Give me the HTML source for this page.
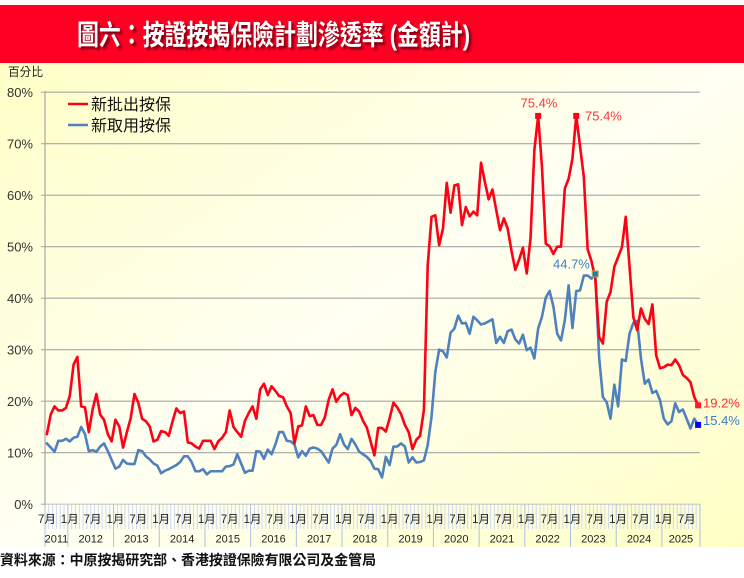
<!DOCTYPE html>
<html><head><meta charset="utf-8">
<style>
html,body{margin:0;padding:0;background:#fff;width:744px;height:578px;overflow:hidden}
svg{display:block}
text{font-family:"Liberation Sans","Noto Sans CJK TC",sans-serif}
</style></head>
<body>
<svg id="s" width="744" height="578" viewBox="0 0 744 578" xmlns="http://www.w3.org/2000/svg">
<defs>
<linearGradient id="bg" x1="0" y1="0" x2="1" y2="1">
<stop offset="0" stop-color="#ffffc6"/>
<stop offset="0.5" stop-color="#fffff3"/>
<stop offset="1" stop-color="#ffffc4"/>
</linearGradient>
<filter id="sh" x="-5%" y="-30%" width="110%" height="160%"><feGaussianBlur stdDeviation="1.2"/></filter>
</defs>
<rect x="0" y="0" width="744" height="578" fill="#fff"/>
<rect x="0" y="5" width="744" height="58" fill="#ff0022"/>
<text x="79.5" y="47" font-size="28" font-weight="bold" fill="#000" opacity="0.55" filter="url(#sh)" textLength="393" lengthAdjust="spacingAndGlyphs">圖六：按證按揭保險計劃滲透率 (金額計)</text>
<text x="77" y="44.5" font-size="28" font-weight="bold" fill="#fff" textLength="393" lengthAdjust="spacingAndGlyphs">圖六：按證按揭保險計劃滲透率 (金額計)</text>
<rect x="0" y="63" width="744" height="484" fill="url(#bg)"/>
<text x="8" y="76" font-size="12" fill="#222" textLength="35" lengthAdjust="spacingAndGlyphs">百分比</text>
<g id="g"></g>
<text x="0" y="565" font-size="14" font-weight="bold" fill="#111" textLength="376" lengthAdjust="spacingAndGlyphs">資料來源：中原按揭研究部、香港按證保險有限公司及金管局</text>
</svg>
<script>
var R=[13.6,17.4,19.0,18.2,18.2,18.7,21.0,27.1,28.6,19.0,18.8,14.0,18.4,21.4,17.4,16.4,13.6,12.2,16.4,15.1,11.0,14.0,16.7,21.4,19.7,16.6,16.1,15.1,12.2,12.5,14.2,14.0,13.3,16.1,18.6,17.7,18.0,12.0,11.8,11.2,10.8,12.3,12.3,12.3,10.7,12.2,12.9,14.0,18.2,15.0,14.0,13.1,16.2,17.7,19.0,16.6,22.3,23.4,21.2,22.9,22.0,21.0,20.8,19.0,17.7,11.8,15.1,15.3,19.0,17.1,17.3,15.4,15.4,16.9,20.3,22.3,19.9,21.0,21.6,21.2,17.3,18.7,18.0,16.2,14.9,12.2,9.5,14.8,14.8,14.1,16.7,19.7,18.8,17.5,15.4,14.0,10.7,12.5,13.3,18.3,46.4,55.8,56.1,50.3,53.5,62.4,56.6,61.9,62.1,54.2,57.7,55.9,56.8,56.1,66.3,62.6,59.2,61.1,57.1,53.2,55.5,53.5,49.2,45.5,47.5,49.8,44.8,51.7,68.7,75.4,65.5,50.6,50.1,48.6,50.0,50.0,61.3,63.2,67.1,75.4,69.5,63.5,49.5,47.2,43.8,32.5,31.2,39.3,41.2,46.1,48.0,49.9,55.8,46.1,36.3,33.8,38.0,36.0,35.0,38.8,28.9,26.4,26.6,27.1,27.0,28.1,27.0,25.1,24.5,23.7,20.8,19.2];
var B=[11.8,11.0,10.2,12.3,12.3,12.7,12.2,12.9,13.1,15.0,13.6,10.3,10.5,10.2,11.2,11.8,10.3,8.6,6.9,7.3,8.6,7.9,7.8,7.8,10.5,10.3,9.3,8.7,7.9,7.5,6.0,6.5,6.8,7.2,7.6,8.2,9.3,9.3,8.2,6.4,6.4,6.8,5.8,6.4,6.4,6.4,6.4,7.3,7.4,7.7,9.7,7.9,6.1,6.5,6.5,10.3,10.2,8.8,10.6,9.7,11.6,14.0,14.0,12.3,12.2,11.6,9.1,10.3,9.4,10.8,11.0,10.8,10.3,9.2,8.1,10.8,11.5,13.6,11.6,10.7,12.7,11.6,10.2,9.7,9.2,8.4,6.9,6.8,5.2,9.2,7.6,11.2,11.2,11.8,11.2,8.1,9.1,8.1,8.2,8.5,11.5,17.0,25.7,30.0,29.7,28.5,33.3,34.1,36.6,35.1,35.2,33.1,36.4,35.7,34.9,35.1,35.5,35.9,31.3,32.5,31.3,33.6,33.9,32.0,31.2,32.9,29.9,30.4,28.3,34.1,36.4,40.1,41.4,38.4,33.1,31.8,35.7,42.5,34.2,41.4,41.5,44.4,44.4,43.8,44.7,28.6,20.8,19.8,16.6,23.2,19.0,28.1,27.8,33.1,35.2,35.6,28.3,23.4,24.2,21.6,22.0,20.2,16.6,15.5,16.1,19.6,17.9,18.4,16.6,14.7,16.6,15.4];
var W=655/172;
function X(i){return 45+(i+0.5)*W;}
function BX(k){return 45+k*W;}
function Y(v){return 504.2-5.15*v;}
var h='';
// ticks on category axis
for(var k=0;k<=172;k++){
  var x=BX(k).toFixed(2);
  var yr=(k==0||k==172||(k>=6&&(k-6)%12==0));
  h+='<line x1="'+x+'" y1="504" x2="'+x+'" y2="'+(yr?547:529)+'" stroke="'+(yr?'#aebfe4':'#cdd9f0')+'" stroke-width="1"/>';
}
// gridlines
for(var j=0;j<=8;j++){
  var y=(504.2-51.5*j).toFixed(2);
  h+='<line x1="45" y1="'+y+'" x2="700" y2="'+y+'" stroke="'+(j==0?'#c8c8c8':'#a6a6a6')+'" stroke-width="1.2"/>';
  h+='<line x1="41" y1="'+y+'" x2="45" y2="'+y+'" stroke="#a6a6a6" stroke-width="1"/>';
  h+='<text x="33" y="'+(504.2-51.5*j+4.6).toFixed(2)+'" font-size="13" fill="#333" text-anchor="end">'+(j*10)+'%</text>';
}
h+='<line x1="45" y1="91" x2="45" y2="505" stroke="#a6a6a6" stroke-width="1.2"/>';
// month labels
for(var i=0;i<172;i+=6){
  h+='<text x="'+X(i).toFixed(2)+'" y="523" font-size="11.5" fill="#222" text-anchor="middle">'+(i%12==0?'7月':'1月')+'</text>';
}
// year labels
function yl(a,b,t){h+='<text x="'+((BX(a)+BX(b))/2).toFixed(2)+'" y="542.5" font-size="11" fill="#222" text-anchor="middle">'+t+'</text>';}
yl(0,6,'2011');
for(var yy=2012;yy<=2024;yy++){var a=6+12*(yy-2012);yl(a,a+12,''+yy);}
yl(162,172,'2025');
// series
function pl(d,c){var p=[];for(var i=0;i<d.length;i++)p.push(X(i).toFixed(2)+','+Y(d[i]).toFixed(2));
  h+='<polyline points="'+p.join(' ')+'" fill="none" stroke="'+c+'" stroke-width="2.6" stroke-linejoin="round" stroke-linecap="round"/>';}
pl(B,'#4f81bd');
pl(R,'#ff0015');
function mk(i,v,f,s){h+='<rect x="'+(X(i)-3).toFixed(2)+'" y="'+(Y(v)-3).toFixed(2)+'" width="6" height="6" fill="'+f+'"'+(s?' stroke="'+s+'" stroke-width="1"':'')+'/>';}
mk(129,75.4,'#ff0015');mk(139,75.4,'#ff0015');mk(171,19.2,'#ff1a2a');
mk(144,44.7,'#2e75b6','#9bbb59');mk(171,15.4,'#0000ff');
// data labels
h+='<text x="520.5" y="107.5" font-size="13" fill="#ff3333">75.4%</text>';
h+='<text x="585" y="120.5" font-size="13" fill="#ff3333">75.4%</text>';
h+='<text x="553" y="268.5" font-size="13" fill="#3d7cc9">44.7%</text>';
h+='<text x="703" y="407.5" font-size="13" fill="#ff2a2a">19.2%</text>';
h+='<text x="703" y="425" font-size="13" fill="#3d7cc9">15.4%</text>';
// legend
h+='<line x1="68" y1="104" x2="88" y2="104" stroke="#ff0015" stroke-width="2.6"/>';
h+='<text x="91" y="110" font-size="16" fill="#111">新批出按保</text>';
h+='<line x1="68" y1="125" x2="88" y2="125" stroke="#4f81bd" stroke-width="2.6"/>';
h+='<text x="91" y="131" font-size="16" fill="#111">新取用按保</text>';
document.getElementById('g').innerHTML=h;
</script>
</body></html>
